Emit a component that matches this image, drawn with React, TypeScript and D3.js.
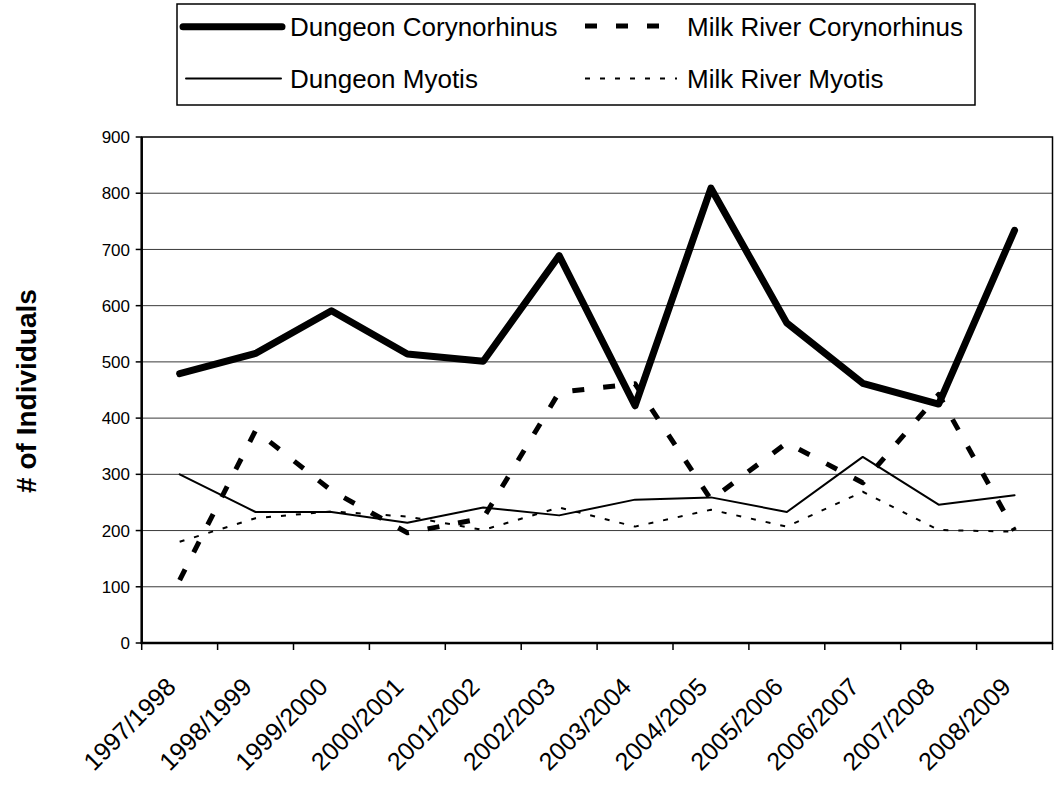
import * as d3 from "d3"

const categories = [
  "1997/1998", "1998/1999", "1999/2000", "2000/2001", "2001/2002", "2002/2003",
  "2003/2004", "2004/2005", "2005/2006", "2006/2007", "2007/2008", "2008/2009",
]
const dungeonCory = [479, 515, 591, 514, 501, 689, 422, 809, 569, 462, 425, 734]
const milkRiverCory = [112, 378, 271, 196, 222, 446, 461, 255, 356, 285, 442, 200]
const dungeonMyotis = [300, 233, 233, 214, 241, 227, 255, 259, 233, 331, 246, 263]
const milkRiverMyotis = [180, 222, 234, 225, 201, 241, 207, 237, 207, 269, 201, 198]
const yTicks = [0, 100, 200, 300, 400, 500, 600, 700, 800, 900]

type Style = { width: number; dash?: string; cap: "round" | "butt" }

const series: { name: string; values: number[]; style: Style }[] = [
  { name: "Dungeon Corynorhinus", values: dungeonCory, style: { width: 7, cap: "round" } },
  { name: "Milk River Corynorhinus", values: milkRiverCory, style: { width: 5, dash: "12,19", cap: "butt" } },
  { name: "Dungeon Myotis", values: dungeonMyotis, style: { width: 2, cap: "round" } },
  { name: "Milk River Myotis", values: milkRiverMyotis, style: { width: 2, dash: "5,10", cap: "butt" } },
]

const W = 1054
const H = 788
const FONT = "'Liberation Sans', Arial, sans-serif"
const plot = { left: 141.7, right: 1052.5, top: 137, bottom: 643 }

export default function App() {
  const x = d3.scaleBand<string>().domain(categories).range([plot.left, plot.right])
  const y = d3.scaleLinear().domain([0, 900]).range([plot.bottom, plot.top])
  const cx = (c: string) => (x(c) ?? 0) + x.bandwidth() / 2

  const line = d3
    .line<number>()
    .x((_, i) => cx(categories[i]))
    .y((v) => y(v))

  // legend slots: rows filled left to right, like the spreadsheet legend
  const legendSlots = [
    { lx1: 183, lx2: 282, ly: 26.7, tx: 290, ty: 36 },
    { lx1: 585, lx2: 677, ly: 26, tx: 687, ty: 36 },
    { lx1: 186, lx2: 281, ly: 78.5, tx: 290, ty: 88 },
    { lx1: 585, lx2: 677, ly: 78.5, tx: 687, ty: 88 },
  ]

  const boundaries = d3.range(categories.length + 1).map((i) => plot.left + i * x.step())

  return (
    <>
      <style>{`body{margin:0;background:#fff}`}</style>
      <svg width={W} height={H} style={{ display: "block", background: "#fff" }} fontFamily={FONT}>
        {/* legend box */}
        <rect x={177} y={4} width={798} height={101} fill="#fff" stroke="#000" strokeWidth={1.5} />
        {series.map((s, i) => {
          const p = legendSlots[i]
          return (
            <g key={s.name}>
              <line
                x1={p.lx1}
                x2={p.lx2}
                y1={p.ly}
                y2={p.ly}
                stroke="#000"
                strokeWidth={s.style.width}
                strokeDasharray={s.style.dash}
                strokeLinecap={s.style.cap}
              />
              <text x={p.tx} y={p.ty} fontSize={26} fill="#000">
                {s.name}
              </text>
            </g>
          )
        })}

        {/* gridlines */}
        {yTicks
          .filter((t) => t > 0 && t < 900)
          .map((t) => (
            <line key={t} x1={plot.left} x2={plot.right} y1={y(t)} y2={y(t)} stroke="#3a3a3a" strokeWidth={1} />
          ))}

        {/* plot area border */}
        <rect
          x={plot.left}
          y={plot.top}
          width={plot.right - plot.left}
          height={plot.bottom - plot.top}
          fill="none"
          stroke="#000"
          strokeWidth={1.5}
        />

        {/* y axis */}
        <line x1={plot.left} x2={plot.left} y1={plot.top} y2={plot.bottom + 1} stroke="#000" strokeWidth={2.5} />
        {yTicks.map((t) => (
          <g key={t}>
            <line x1={plot.left - 6} x2={plot.left} y1={y(t)} y2={y(t)} stroke="#000" strokeWidth={1.5} />
            <text x={130} y={y(t)} dy="0.36em" textAnchor="end" fontSize={17} fill="#000">
              {t}
            </text>
          </g>
        ))}

        {/* x axis */}
        <line x1={plot.left - 1} x2={plot.right} y1={plot.bottom} y2={plot.bottom} stroke="#000" strokeWidth={2.5} />
        {boundaries.map((bx, i) => (
          <line key={i} x1={bx} x2={bx} y1={plot.bottom} y2={plot.bottom + 7} stroke="#000" strokeWidth={1.5} />
        ))}
        {categories.map((c) => (
          <text
            key={c}
            transform={`translate(${cx(c) - 2.2},${688.5}) rotate(-45)`}
            textAnchor="end"
            fontSize={25}
            fill="#000"
          >
            {c}
          </text>
        ))}

        {/* y axis title */}
        <text
          transform={`translate(36,391) rotate(-90)`}
          textAnchor="middle"
          fontSize={28}
          fontWeight="bold"
          fill="#000"
        >
          # of Individuals
        </text>

        {/* series */}
        {series.map((s) => (
          <path
            key={s.name}
            d={line(s.values) ?? undefined}
            fill="none"
            stroke="#000"
            strokeWidth={s.style.width}
            strokeDasharray={s.style.dash}
            strokeLinecap={s.style.cap}
            strokeLinejoin="round"
          />
        ))}
      </svg>
    </>
  )
}
